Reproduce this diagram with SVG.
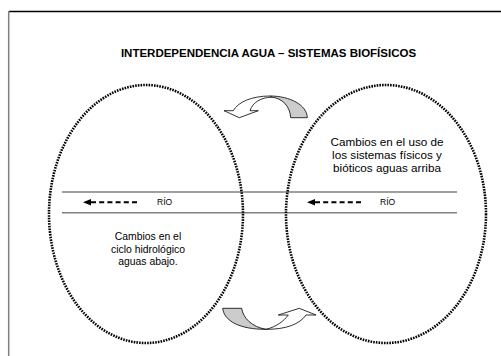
<svg xmlns="http://www.w3.org/2000/svg" width="501" height="356" viewBox="0 0 501 356">
<style>
  text { font-family: "Liberation Sans", Arial, sans-serif; fill: #000; }
  .title { font-size: 11.5px; font-weight: bold; text-anchor: middle; }
  .rtext { font-size: 11.7px; text-anchor: middle; }
  .ltext { font-size: 10.4px; text-anchor: middle; }
  .rio { font-size: 8.5px; }
  .zone { fill: none; stroke: #000; stroke-width: 2.6; stroke-dasharray: 1.6 1.1; }
  .river { stroke: #808080; stroke-width: 1.5; }
  .dash { stroke: #000; stroke-width: 2; stroke-dasharray: 5 3.2; fill: none; }
  .head { fill: #000; }
  .curve { stroke: #000; stroke-width: 0.8; stroke-linejoin: round; }
  .front { fill: #fff; }
  .back { fill: #cccccc; }
</style>
<rect width="501" height="356" fill="#fff"/>
<g id="frame">
  <line x1="9" y1="11.5" x2="501" y2="11.5" stroke="#000" stroke-width="1.3"/>
  <line x1="8.7" y1="11" x2="8.7" y2="356" stroke="#808080" stroke-width="1.5"/>
</g>
<g id="title">
  <text class="title" x="268.5" y="56.5">INTERDEPENDENCIA AGUA – SISTEMAS BIOFÍSICOS</text>
</g>
<g id="river">
  <line class="river" x1="62" y1="192" x2="457" y2="192"/>
  <line class="river" x1="62" y1="212.7" x2="457" y2="212.7"/>
</g>
<g id="left-zone">
  <ellipse class="zone" cx="146" cy="214" rx="97" ry="129"/>
  <text class="ltext" x="148" y="240">Cambios en el</text>
  <text class="ltext" x="148" y="252.5">ciclo hidrológico</text>
  <text class="ltext" x="148" y="265">aguas abajo.</text>
</g>
<g id="right-zone">
  <ellipse class="zone" cx="386" cy="214" rx="100" ry="129"/>
  <text class="rtext" x="387" y="146">Cambios en el uso de</text>
  <text class="rtext" x="387" y="159">los sistemas físicos y</text>
  <text class="rtext" x="387" y="172">bióticos aguas arriba</text>
</g>
<g id="connectors">
  <g id="flow-left">
    <polygon class="head" points="83,202.3 91,199 91,205.6"/>
    <line class="dash" x1="91" y1="202.3" x2="138" y2="202.3"/>
    <text class="rio" x="157" y="205">RÍO</text>
  </g>
  <g id="flow-right">
    <polygon class="head" points="307,202.3 315,199 315,205.6"/>
    <line class="dash" x1="315" y1="202.3" x2="362" y2="202.3"/>
    <text class="rio" x="380" y="205">RÍO</text>
  </g>
  <g id="curved-top">
    <path class="curve back" d="M270,96 C290,96 307,105 307.3,117.7 L290.7,117.7 C290,106 282,98 271.5,97.2 Z"/>
    <path class="curve front" d="M233.3,110.7 L224,110.7 L239.3,117.7 L258.3,110.7 L250,110.7 C253,102 261,97.5 271.5,97.2 L270,96 C252,96 238,102 233.3,110.7 Z"/>
  </g>
  <g id="curved-bottom">
    <path class="curve back" d="M222.7,308.3 L241.7,308.3 C243,318 252,327 266,329.3 C240,329.5 224,321 222.7,308.3 Z"/>
    <path class="curve front" d="M266,329.3 C276,327 284,321 288.3,315 L278.3,315 L299.3,308.3 L316,315 L306,315 C300,324 286,329.5 266,329.3 Z"/>
  </g>
</g>
</svg>
